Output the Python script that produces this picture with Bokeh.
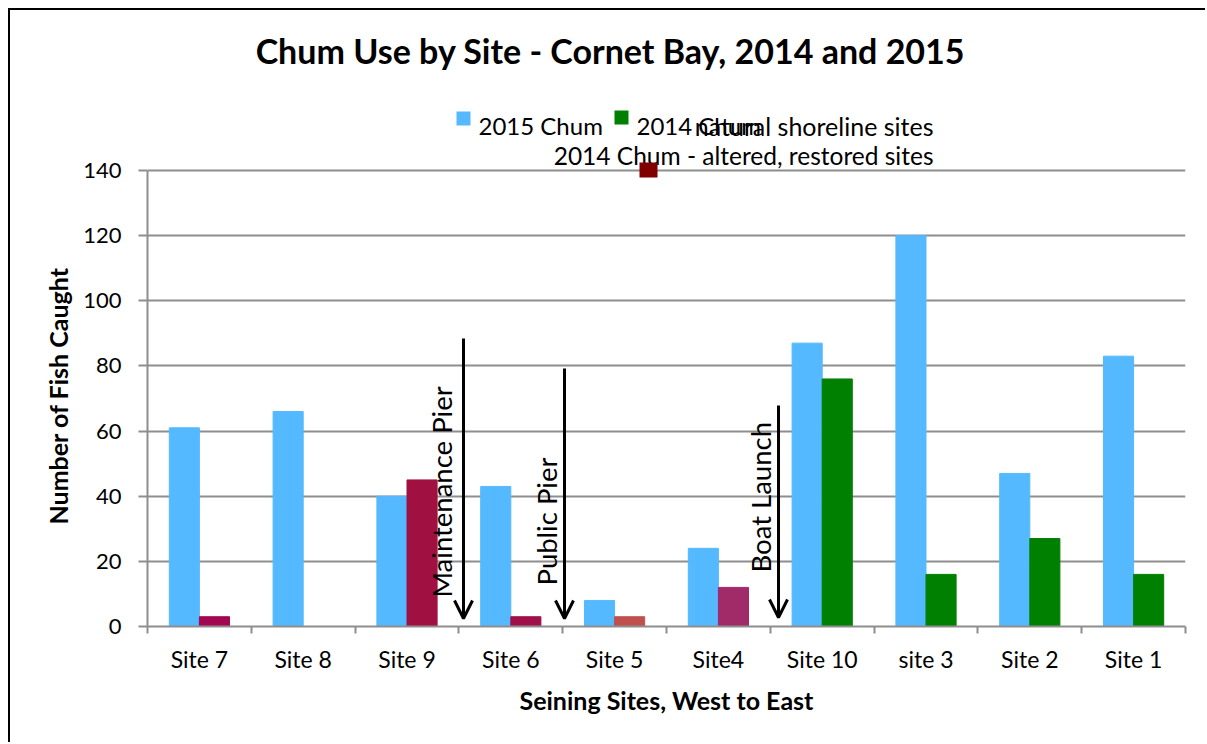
import math
from bokeh.plotting import figure
from bokeh.models import (Range1d, FixedTicker, Label, Arrow, OpenHead, BoxAnnotation,
                          ColumnDataSource, Title)
from bokeh.embed import file_html
from bokeh.resources import INLINE

# ---------------- data ----------------
sites = ["Site 7", "Site 8", "Site 9", "Site 6", "Site 5", "Site4",
         "Site 10", "site 3", "Site 2", "Site 1"]
chum_2015 = [61, 66, 40, 43, 8, 24, 87, 120, 47, 83]
chum_2014 = [3, 0, 45, 3, 3, 12, 76, 16, 27, 16]
colors_2014 = ["#A2074F", "#A2074F", "#A01142", "#A0104A", "#C0504D", "#A12A68",
               "#008000", "#008000", "#008000", "#008000"]
y_ticks = [0, 20, 40, 60, 80, 100, 120, 140]
landmarks = ["Maintenance Pier", "Public Pier", "Boat Launch"]

BLUE = "#55B9FF"
GRID = "#8E8E8E"
FONT = "Lato"

# ---------------- layout (page pixels) ----------------
PAGE_W, PAGE_H = 1207, 744
ORIGIN = 10                      # canvas starts after 8px margin + 2px border
FR_L, FR_R, FR_B, Y140 = 147, 1185, 626, 170
n = len(sites)
XU = (FR_R - FR_L) / n           # px per category
YU = (FR_B - Y140) / 140.0       # px per fish
Y_TOP = (FR_B - ORIGIN) / YU     # frame reaches the top of the canvas

def dx(px):
    return (px - FR_L) / XU

def dy(py):
    return (FR_B - py) / YU

centers = [i + 0.5 for i in range(n)]
half = 0.145
src = ColumnDataSource(dict(
    x15=[c - half for c in centers], y15=chum_2015,
    x14=[c + half for c in centers], y14=chum_2014, c14=colors_2014))

W, H = PAGE_W - ORIGIN, PAGE_H - ORIGIN
p = figure(width=W, height=H, output_backend="svg", toolbar_location=None,
           x_range=Range1d(0, n), y_range=Range1d(0, Y_TOP),
           min_border_left=FR_L - ORIGIN, min_border_right=PAGE_W - FR_R,
           min_border_top=0, min_border_bottom=PAGE_H - FR_B, tools="")
p.styles = {"margin-left": "8px", "margin-top": "8px",
            "border-left": "2px solid black", "border-top": "2px solid black"}
p.outline_line_color = None
p.background_fill_color = "white"
p.border_fill_color = "white"

p.vbar(x="x15", top="y15", width=0.29, source=src, color=BLUE)
p.vbar(x="x14", top="y14", width=0.29, source=src, color="c14")

# axes
p.xaxis.ticker = FixedTicker(ticks=centers, minor_ticks=list(range(n + 1)))
p.xaxis.major_label_overrides = {c: s for c, s in zip(centers, sites)}
p.xaxis.major_tick_out = 0
p.xaxis.major_tick_in = 0
p.xaxis.minor_tick_out = 7
p.xaxis.minor_tick_in = 0
p.xaxis.minor_tick_line_color = GRID
p.xaxis.minor_tick_line_width = 2
p.xaxis.axis_line_color = GRID
p.xaxis.axis_line_width = 2
p.xaxis.major_label_text_font = FONT
p.xaxis.major_label_text_font_size = "23px"
p.xaxis.major_label_text_color = "black"
p.xaxis.major_label_standoff = 11
p.xaxis.axis_label = "Seining Sites, West to East"
p.xaxis.axis_label_text_font = FONT
p.xaxis.axis_label_text_font_style = "bold"
p.xaxis.axis_label_text_font_size = "25px"
p.xaxis.axis_label_text_color = "black"
p.xaxis.axis_label_standoff = 9

p.yaxis.ticker = FixedTicker(ticks=y_ticks)
p.yaxis.bounds = (0, 140)
p.yaxis.minor_tick_line_color = None
p.yaxis.major_tick_out = 9
p.yaxis.major_tick_in = 0
p.yaxis.major_tick_line_color = GRID
p.yaxis.major_tick_line_width = 2
p.yaxis.axis_line_color = GRID
p.yaxis.axis_line_width = 2
p.yaxis.major_label_text_font = FONT
p.yaxis.major_label_text_font_size = "22px"
p.yaxis.major_label_text_color = "black"
p.yaxis.major_label_standoff = 17

# y axis title, placed along the 0-140 span (the frame extends higher)
p.add_layout(Title(text="Number of Fish Caught", align="left", offset=FR_B - 524,
                   standoff=15, text_font=FONT, text_font_style="bold",
                   text_font_size="25px", text_color="black"), "left")

p.xgrid.grid_line_color = None
p.ygrid.ticker = FixedTicker(ticks=y_ticks)
p.ygrid.grid_line_color = GRID
p.ygrid.grid_line_width = 2

# landmark arrows (page px: x, top, bottom) and rotated labels (page px: anchor x, bottom y)
arrow_px = [(463, 338, 618), (564, 368, 618), (778, 405, 617)]
label_px = [(441, 597), (546, 585), (760, 572)]
for name, (ax, at, ab), (lx, ly) in zip(landmarks, arrow_px, label_px):
    p.add_layout(Arrow(x_start=dx(ax), y_start=dy(at), x_end=dx(ax), y_end=dy(ab),
                       line_width=3, line_color="black",
                       end=OpenHead(size=18, line_width=3, line_color="black")))
    p.add_layout(Label(x=dx(lx), y=dy(ly), text=name, angle=math.pi / 2,
                       text_font=FONT, text_font_size="27.5px", text_color="black",
                       text_baseline="alphabetic", text_align="left"))

# title
p.add_layout(Label(x=dx(610), y=dy(50),
                   text="Chum Use by Site - Cornet Bay, 2014 and 2015",
                   text_font=FONT, text_font_style="bold", text_font_size="34px",
                   text_align="center", text_baseline="middle", text_color="black"))

# broken legend as in the original
def square(l, t, r, b, color):
    p.add_layout(BoxAnnotation(left=dx(l), right=dx(r), top=dy(t), bottom=dy(b),
                               fill_color=color, fill_alpha=1, line_color=None,
                               level="overlay"))

def legend_text(x, y, txt, size, align="left"):
    p.add_layout(Label(x=dx(x), y=dy(y), text=txt,
                       text_font=FONT, text_font_size=size, text_color="black",
                       text_align=align, text_baseline="alphabetic"))

square(456, 111, 470, 125, BLUE)
legend_text(478, 125, "2015 Chum", "24px")
square(614, 110, 628, 124, "#008000")
legend_text(636, 125, "2014 Chum", "24px")
legend_text(933, 125, "natural shoreline sites", "25px", "right")
legend_text(933, 155, "2014 Chum - altered, restored sites", "24.5px", "right")
square(639, 162, 657, 177, "#800000")

open("out.html", "w").write(file_html(p, INLINE))
